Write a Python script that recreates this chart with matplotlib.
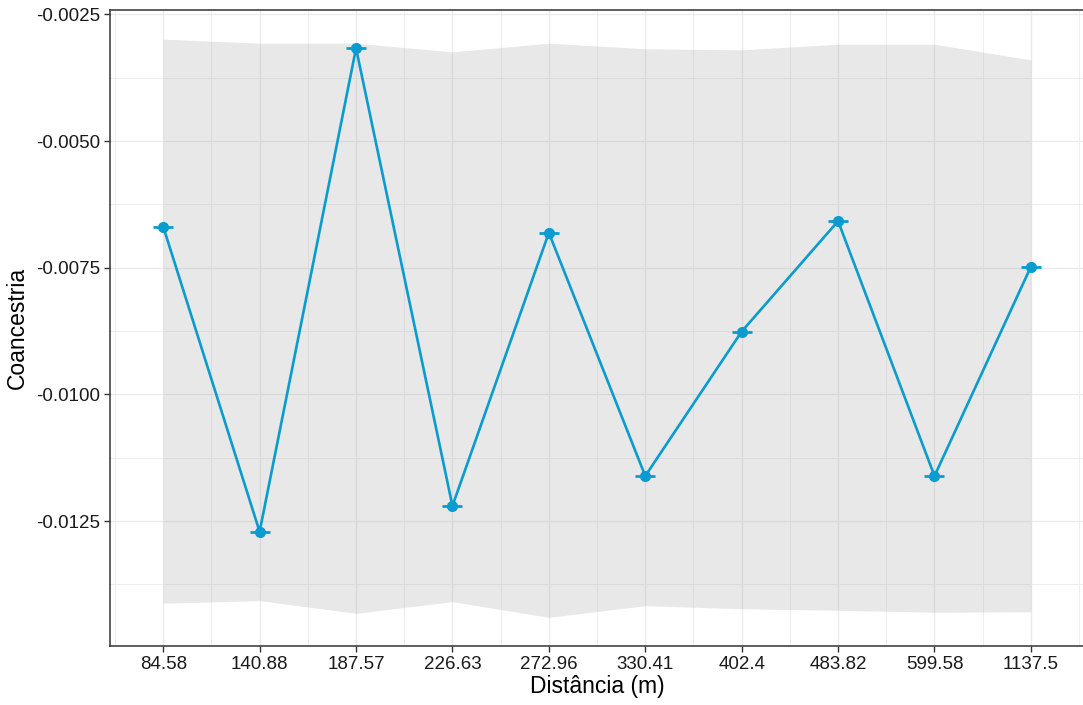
import matplotlib.pyplot as plt
from matplotlib.ticker import MultipleLocator

plt.rcParams['font.family'] = ['Liberation Sans', 'DejaVu Sans']

distancias = ['84.58', '140.88', '187.57', '226.63', '272.96',
              '330.41', '402.4', '483.82', '599.58', '1137.5']
coancestria = [-0.00669, -0.01271, -0.00317, -0.01220, -0.00681,
               -0.01161, -0.00876, -0.00658, -0.01161, -0.00748]
ic_sup = [-0.00299, -0.00307, -0.00307, -0.00324, -0.00307,
          -0.00318, -0.00320, -0.00309, -0.00309, -0.00340]
ic_inf = [-0.01412, -0.01407, -0.01432, -0.01409, -0.01440,
          -0.01417, -0.01423, -0.01426, -0.01430, -0.01429]

x = list(range(len(distancias)))
cor = '#0A9BCF'

fig = plt.figure(figsize=(10.83, 7.05), dpi=100)
ax = fig.add_axes([0.1013, 0.0837, 0.9, 0.9021])

ax.fill_between(x, ic_inf, ic_sup, color='#999999', alpha=0.22, linewidth=0, zorder=2)
ax.plot(x, coancestria, color=cor, linewidth=1.9, zorder=3)
ax.plot(x, coancestria, linestyle='none', marker='_', markersize=14.5,
        markeredgewidth=2.0, color=cor, zorder=4)
ax.plot(x, coancestria, linestyle='none', marker='o', markersize=7,
        color=cor, zorder=5)

ax.set_xlim(-0.555, 9.555)
ax.set_ylim(-0.014965, -0.002415)

ax.set_xticks(x)
ax.set_xticklabels(distancias)
ax.xaxis.set_minor_locator(MultipleLocator(0.5))
ax.set_yticks([-0.0125, -0.0100, -0.0075, -0.0050, -0.0025])
ax.set_yticklabels(['-0.0125', '-0.0100', '-0.0075', '-0.0050', '-0.0025'])
ax.yaxis.set_minor_locator(MultipleLocator(0.00125))

ax.grid(True, which='major', color='#EBEBEB', linewidth=1.0, zorder=1)
ax.grid(True, which='minor', color='#EBEBEB', linewidth=0.6, zorder=1)
ax.set_axisbelow(True)

ax.tick_params(axis='both', which='major', length=4, width=1.0, color='#333333',
               labelsize=13.5, labelcolor='#1A1A1A', pad=3)
ax.tick_params(axis='both', which='minor', length=0)

for lado in ['left', 'bottom', 'top']:
    ax.spines[lado].set_color('#333333')
    ax.spines[lado].set_linewidth(1.1)
ax.spines['right'].set_visible(False)

ax.set_xlabel('Distância (m)', fontsize=16.5, labelpad=2)
ax.set_ylabel('Coancestria', fontsize=16.5, labelpad=5)

fig.savefig('out.png', dpi=100)
plt.close(fig)
